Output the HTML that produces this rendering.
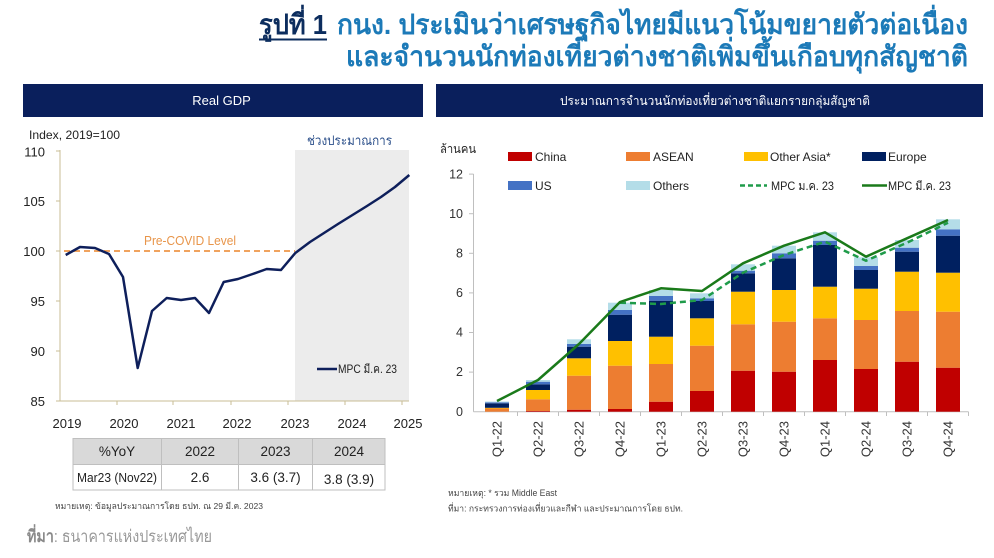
<!DOCTYPE html>
<html>
<head>
<meta charset="utf-8">
<style>
html,body{margin:0;padding:0;background:#fff;}
svg{display:block;}
text{font-family:"Liberation Sans","Noto Sans CJK SC",sans-serif;}
</style>
</head>
<body>
<svg width="994" height="558" viewBox="0 0 994 558" xmlns="http://www.w3.org/2000/svg">
<rect x="0" y="0" width="994" height="558" fill="#ffffff"/>

<!-- Title -->
<text x="259" y="34" font-size="28" font-weight="bold" fill="#0c2d5e" textLength="68" lengthAdjust="spacingAndGlyphs">รูปที่ 1</text>
<rect x="259" y="38.5" width="68" height="2" fill="#0c2d5e"/>
<text x="337" y="34" font-size="28" font-weight="bold" fill="#1c7ab8" textLength="631" lengthAdjust="spacingAndGlyphs">กนง. ประเมินว่าเศรษฐกิจไทยมีแนวโน้มขยายตัวต่อเนื่อง</text>
<text x="346" y="66" font-size="28" font-weight="bold" fill="#1c7ab8" textLength="622" lengthAdjust="spacingAndGlyphs">และจำนวนนักท่องเที่ยวต่างชาติเพิ่มขึ้นเกือบทุกสัญชาติ</text>

<!-- Headers -->
<rect x="23" y="84" width="400" height="33" fill="#0a1f5c"/>
<text x="221.5" y="105" font-size="13" fill="#ffffff" text-anchor="middle">Real GDP</text>
<rect x="436" y="84" width="547" height="33" fill="#0a1f5c"/>
<text x="560" y="105" font-size="12.5" fill="#ffffff" textLength="310" lengthAdjust="spacingAndGlyphs">ประมาณการจำนวนนักท่องเที่ยวต่างชาติแยกรายกลุ่มสัญชาติ</text>

<!-- LEFT CHART -->
<rect x="295" y="150" width="114" height="251" fill="#ececec"/>
<text x="29" y="139" font-size="12" fill="#222" textLength="91" lengthAdjust="spacingAndGlyphs">Index, 2019=100</text>
<text x="307" y="145" font-size="13" fill="#2b4f8a" textLength="85" lengthAdjust="spacingAndGlyphs">ช่วงประมาณการ</text>

<g stroke="#c9bd95" stroke-width="1">
<line x1="60" y1="150" x2="60" y2="401"/>
<line x1="60" y1="401" x2="409" y2="401"/>
<line x1="56" y1="151" x2="60" y2="151"/>
<line x1="56" y1="201" x2="60" y2="201"/>
<line x1="56" y1="251" x2="60" y2="251"/>
<line x1="56" y1="301" x2="60" y2="301"/>
<line x1="56" y1="351" x2="60" y2="351"/>
<line x1="56" y1="401" x2="60" y2="401"/>
<line x1="117" y1="401" x2="117" y2="405"/>
<line x1="173" y1="401" x2="173" y2="405"/>
<line x1="231" y1="401" x2="231" y2="405"/>
<line x1="288" y1="401" x2="288" y2="405"/>
<line x1="345" y1="401" x2="345" y2="405"/>
<line x1="402" y1="401" x2="402" y2="405"/>
</g>
<g font-size="13" fill="#222" text-anchor="end">
<text x="45" y="156.5">110</text>
<text x="45" y="206">105</text>
<text x="45" y="256">100</text>
<text x="45" y="306">95</text>
<text x="45" y="356">90</text>
<text x="45" y="406">85</text>
</g>
<g font-size="13" fill="#222" text-anchor="middle">
<text x="67" y="428">2019</text>
<text x="124" y="428">2020</text>
<text x="181" y="428">2021</text>
<text x="237" y="428">2022</text>
<text x="295" y="428">2023</text>
<text x="352" y="428">2024</text>
<text x="408" y="428">2025</text>
</g>

<line x1="64" y1="251" x2="295" y2="251" stroke="#f0a35e" stroke-width="2" stroke-dasharray="6,4"/>
<text x="144" y="245" font-size="13" fill="#e8954a" textLength="92" lengthAdjust="spacingAndGlyphs">Pre-COVID Level</text>

<polyline fill="none" stroke="#0e1f5b" stroke-width="2.5" stroke-linejoin="round"
points="65.7,255 80,247 95,248 109,254 123,277 137.7,368 152,311 166.7,298 181,300 195,298 209,313 223.7,282 238,279 252.7,274 266.7,269 281,270 295.3,253 310,242 324,233 338,224 352.5,215 367,206 381,197 395,187 409.3,175"/>

<line x1="317" y1="369" x2="337" y2="369" stroke="#0e1f5b" stroke-width="2.5"/>
<text x="338" y="373" font-size="12" fill="#222" textLength="59" lengthAdjust="spacingAndGlyphs">MPC มี.ค. 23</text>

<!-- Table -->
<rect x="73" y="438.5" width="312" height="26" fill="#d9d9d9"/>
<g stroke="#bfbfbf" stroke-width="1" fill="none">
<rect x="73" y="438.5" width="312" height="51.5"/>
<line x1="73" y1="464.5" x2="385" y2="464.5"/>
<line x1="161.5" y1="438.5" x2="161.5" y2="490"/>
<line x1="238.5" y1="438.5" x2="238.5" y2="490"/>
<line x1="312.5" y1="438.5" x2="312.5" y2="490"/>
</g>
<g font-size="13.5" fill="#222" text-anchor="middle">
<text x="117" y="456">%YoY</text>
<text x="200" y="456">2022</text>
<text x="275.5" y="456">2023</text>
<text x="349" y="456">2024</text>
<text x="200" y="482">2.6</text>
<text x="275.5" y="482">3.6 (3.7)</text>
<text x="349" y="484">3.8 (3.9)</text>
</g>
<text x="77" y="482" font-size="13" fill="#222" textLength="80" lengthAdjust="spacingAndGlyphs">Mar23 (Nov22)</text>
<text x="55" y="509" font-size="8.5" fill="#444" textLength="208" lengthAdjust="spacingAndGlyphs">หมายเหตุ: ข้อมูลประมาณการโดย ธปท. ณ 29 มี.ค. 2023</text>
<text x="27" y="542" font-size="17" fill="#999" textLength="185" lengthAdjust="spacingAndGlyphs"><tspan font-weight="bold" fill="#8a8a8a">ที่มา</tspan>: ธนาคารแห่งประเทศไทย</text>

<!-- RIGHT CHART -->
<text x="440" y="153" font-size="12" fill="#222" textLength="36" lengthAdjust="spacingAndGlyphs">ล้านคน</text>

<!-- legend -->
<g font-size="12" fill="#222">
<rect x="508" y="152" width="24" height="9" fill="#c00000"/>
<text x="535" y="161">China</text>
<rect x="626" y="152" width="24" height="9" fill="#ed7d31"/>
<text x="653" y="161">ASEAN</text>
<rect x="744" y="152" width="24" height="9" fill="#ffc000"/>
<text x="770" y="161">Other Asia*</text>
<rect x="862" y="152" width="24" height="9" fill="#002060"/>
<text x="888" y="161">Europe</text>
<rect x="508" y="181" width="24" height="9" fill="#4472c4"/>
<text x="535" y="190">US</text>
<rect x="626" y="181" width="24" height="9" fill="#b4dde8"/>
<text x="653" y="190">Others</text>
<line x1="740" y1="185.5" x2="767" y2="185.5" stroke="#1f9b4a" stroke-width="2.5" stroke-dasharray="5,3"/>
<text x="771" y="190" textLength="63" lengthAdjust="spacingAndGlyphs">MPC ม.ค. 23</text>
<line x1="862" y1="185.5" x2="887" y2="185.5" stroke="#1a7a1a" stroke-width="2.5"/>
<text x="888" y="190" textLength="63" lengthAdjust="spacingAndGlyphs">MPC มี.ค. 23</text>
</g>

<!-- axes -->
<g stroke="#bfbfbf" stroke-width="1">
<line x1="473.5" y1="174" x2="473.5" y2="411.7"/>
<line x1="473.5" y1="411.7" x2="968.5" y2="411.7"/>
<line x1="469" y1="174.1" x2="473.5" y2="174.1"/>
<line x1="469" y1="213.7" x2="473.5" y2="213.7"/>
<line x1="469" y1="253.3" x2="473.5" y2="253.3"/>
<line x1="469" y1="292.9" x2="473.5" y2="292.9"/>
<line x1="469" y1="332.5" x2="473.5" y2="332.5"/>
<line x1="469" y1="372.1" x2="473.5" y2="372.1"/>
<line x1="517.5" y1="411.7" x2="517.5" y2="416"/>
<line x1="558.5" y1="411.7" x2="558.5" y2="416"/>
<line x1="599.5" y1="411.7" x2="599.5" y2="416"/>
<line x1="640.5" y1="411.7" x2="640.5" y2="416"/>
<line x1="681.5" y1="411.7" x2="681.5" y2="416"/>
<line x1="722.5" y1="411.7" x2="722.5" y2="416"/>
<line x1="763.5" y1="411.7" x2="763.5" y2="416"/>
<line x1="804.5" y1="411.7" x2="804.5" y2="416"/>
<line x1="845.5" y1="411.7" x2="845.5" y2="416"/>
<line x1="886.5" y1="411.7" x2="886.5" y2="416"/>
<line x1="927.5" y1="411.7" x2="927.5" y2="416"/>
<line x1="968.5" y1="411.7" x2="968.5" y2="416"/>
</g>
<g font-size="12.5" fill="#333" text-anchor="end">
<text x="463" y="178.5">12</text>
<text x="463" y="218">10</text>
<text x="463" y="257.5">8</text>
<text x="463" y="297">6</text>
<text x="463" y="336.5">4</text>
<text x="463" y="376">2</text>
<text x="463" y="416">0</text>
</g>

<!-- bars: China, ASEAN, Other Asia, Europe, US, Others -->
<g>
<rect x="485" y="408.5" width="24" height="3.2" fill="#ed7d31"/>
<rect x="485" y="407.8" width="24" height="0.7" fill="#ffc000"/>
<rect x="485" y="403.3" width="24" height="4.5" fill="#002060"/>
<rect x="485" y="402.3" width="24" height="1" fill="#4472c4"/>
<rect x="485" y="401.5" width="24" height="0.8" fill="#b4dde8"/>

<rect x="526" y="411" width="24" height="0.7" fill="#c00000"/>
<rect x="526" y="399.3" width="24" height="11.7" fill="#ed7d31"/>
<rect x="526" y="390" width="24" height="9.3" fill="#ffc000"/>
<rect x="526" y="384.3" width="24" height="5.7" fill="#002060"/>
<rect x="526" y="381.7" width="24" height="2.6" fill="#4472c4"/>
<rect x="526" y="380" width="24" height="1.7" fill="#b4dde8"/>

<rect x="567" y="409.7" width="24" height="2" fill="#c00000"/>
<rect x="567" y="375.7" width="24" height="34" fill="#ed7d31"/>
<rect x="567" y="358.3" width="24" height="17.4" fill="#ffc000"/>
<rect x="567" y="346.7" width="24" height="11.6" fill="#002060"/>
<rect x="567" y="344" width="24" height="2.7" fill="#4472c4"/>
<rect x="567" y="339.3" width="24" height="4.7" fill="#b4dde8"/>

<rect x="608" y="409" width="24" height="2.7" fill="#c00000"/>
<rect x="608" y="365.7" width="24" height="43.3" fill="#ed7d31"/>
<rect x="608" y="341" width="24" height="24.7" fill="#ffc000"/>
<rect x="608" y="314.7" width="24" height="26.3" fill="#002060"/>
<rect x="608" y="310" width="24" height="4.7" fill="#4472c4"/>
<rect x="608" y="302.7" width="24" height="7.3" fill="#b4dde8"/>

<rect x="649" y="401.7" width="24" height="10" fill="#c00000"/>
<rect x="649" y="364" width="24" height="37.7" fill="#ed7d31"/>
<rect x="649" y="336.7" width="24" height="27.3" fill="#ffc000"/>
<rect x="649" y="300.7" width="24" height="36" fill="#002060"/>
<rect x="649" y="296" width="24" height="4.7" fill="#4472c4"/>
<rect x="649" y="290" width="24" height="6" fill="#b4dde8"/>

<rect x="690" y="391" width="24" height="20.7" fill="#c00000"/>
<rect x="690" y="345.7" width="24" height="45.3" fill="#ed7d31"/>
<rect x="690" y="318.3" width="24" height="27.4" fill="#ffc000"/>
<rect x="690" y="301" width="24" height="17.3" fill="#002060"/>
<rect x="690" y="298.3" width="24" height="2.7" fill="#4472c4"/>
<rect x="690" y="293.3" width="24" height="5" fill="#b4dde8"/>

<rect x="731" y="370.7" width="24" height="41" fill="#c00000"/>
<rect x="731" y="324.3" width="24" height="46.4" fill="#ed7d31"/>
<rect x="731" y="291.7" width="24" height="32.6" fill="#ffc000"/>
<rect x="731" y="273.3" width="24" height="18.4" fill="#002060"/>
<rect x="731" y="270.7" width="24" height="2.6" fill="#4472c4"/>
<rect x="731" y="264.3" width="24" height="6.4" fill="#b4dde8"/>

<rect x="772" y="371.7" width="24" height="40" fill="#c00000"/>
<rect x="772" y="321.7" width="24" height="50" fill="#ed7d31"/>
<rect x="772" y="290" width="24" height="31.7" fill="#ffc000"/>
<rect x="772" y="258.3" width="24" height="31.7" fill="#002060"/>
<rect x="772" y="253.3" width="24" height="5" fill="#4472c4"/>
<rect x="772" y="245.7" width="24" height="7.6" fill="#b4dde8"/>

<rect x="813" y="360" width="24" height="51.7" fill="#c00000"/>
<rect x="813" y="318.3" width="24" height="41.7" fill="#ed7d31"/>
<rect x="813" y="286.7" width="24" height="31.6" fill="#ffc000"/>
<rect x="813" y="245" width="24" height="41.7" fill="#002060"/>
<rect x="813" y="240.7" width="24" height="4.3" fill="#4472c4"/>
<rect x="813" y="232.3" width="24" height="8.4" fill="#b4dde8"/>

<rect x="854" y="369" width="24" height="42.7" fill="#c00000"/>
<rect x="854" y="320" width="24" height="49" fill="#ed7d31"/>
<rect x="854" y="288.7" width="24" height="31.3" fill="#ffc000"/>
<rect x="854" y="270" width="24" height="18.7" fill="#002060"/>
<rect x="854" y="266" width="24" height="4" fill="#4472c4"/>
<rect x="854" y="257.3" width="24" height="8.7" fill="#b4dde8"/>

<rect x="895" y="361.7" width="24" height="50" fill="#c00000"/>
<rect x="895" y="311" width="24" height="50.7" fill="#ed7d31"/>
<rect x="895" y="271.7" width="24" height="39.3" fill="#ffc000"/>
<rect x="895" y="251.7" width="24" height="20" fill="#002060"/>
<rect x="895" y="247.7" width="24" height="4" fill="#4472c4"/>
<rect x="895" y="240" width="24" height="7.7" fill="#b4dde8"/>

<rect x="936" y="367.7" width="24" height="44" fill="#c00000"/>
<rect x="936" y="311.7" width="24" height="56" fill="#ed7d31"/>
<rect x="936" y="272.7" width="24" height="39" fill="#ffc000"/>
<rect x="936" y="235.7" width="24" height="37" fill="#002060"/>
<rect x="936" y="229.3" width="24" height="6.4" fill="#4472c4"/>
<rect x="936" y="219.3" width="24" height="10" fill="#b4dde8"/>
</g>

<!-- lines -->
<polyline fill="none" stroke="#1f9b4a" stroke-width="2.5" stroke-dasharray="6,4" stroke-linejoin="round"
points="620,302.7 661,304 702,300 743,272.7 784,255 825,241.7 866,260.7 907,242.7 948,222.7"/>
<polyline fill="none" stroke="#1a7a1a" stroke-width="2.5" stroke-linejoin="round"
points="497,401 538,380 579,344 620,302 661,288.3 702,291 743,263.3 784,245.7 825,232.3 866,256.7 907,238.3 948,220"/>

<!-- x labels -->
<g font-size="13" fill="#333" text-anchor="end">
<text transform="translate(501.6,421) rotate(-90)">Q1-22</text>
<text transform="translate(542.6,421) rotate(-90)">Q2-22</text>
<text transform="translate(583.6,421) rotate(-90)">Q3-22</text>
<text transform="translate(624.6,421) rotate(-90)">Q4-22</text>
<text transform="translate(665.6,421) rotate(-90)">Q1-23</text>
<text transform="translate(706.6,421) rotate(-90)">Q2-23</text>
<text transform="translate(747.6,421) rotate(-90)">Q3-23</text>
<text transform="translate(788.6,421) rotate(-90)">Q4-23</text>
<text transform="translate(829.6,421) rotate(-90)">Q1-24</text>
<text transform="translate(870.6,421) rotate(-90)">Q2-24</text>
<text transform="translate(911.6,421) rotate(-90)">Q3-24</text>
<text transform="translate(952.6,421) rotate(-90)">Q4-24</text>
</g>

<text x="448" y="496" font-size="9" fill="#444" textLength="109" lengthAdjust="spacingAndGlyphs">หมายเหตุ: * รวม Middle East</text>
<text x="448" y="511.5" font-size="9" fill="#444" textLength="235" lengthAdjust="spacingAndGlyphs">ที่มา: กระทรวงการท่องเที่ยวและกีฬา และประมาณการโดย ธปท.</text>
</svg>
</body>
</html>
